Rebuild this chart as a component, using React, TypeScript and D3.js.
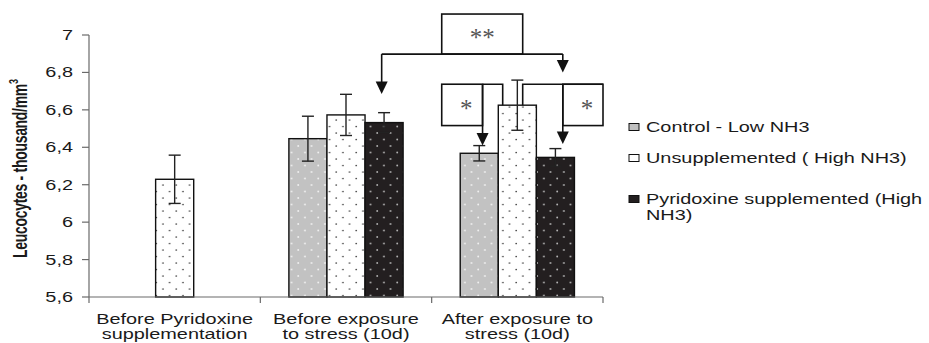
import React from 'react';
import * as d3 from 'd3';

// ---------- data ----------
const categories = [
  'Before Pyridoxine|supplementation',
  'Before exposure|to stress (10d)',
  'After exposure to|stress (10d)',
];
const seriesKeys = ['control', 'unsupp', 'pyridox'];
const legendLabels = [
  ['Control - Low NH3'],
  ['Unsupplemented ( High NH3)'],
  ['Pyridoxine supplemented (High', 'NH3)'],
];
const controlValues: (number | null)[] = [null, 6.446, 6.368];
const controlErrors: (number | null)[] = [null, 0.12, 0.041];
const unsuppValues: (number | null)[] = [6.229, 6.573, 6.625];
const unsuppErrors: (number | null)[] = [0.129, 0.11, 0.134];
const pyridoxValues: (number | null)[] = [null, 6.532, 6.346];
const pyridoxErrors: (number | null)[] = [null, 0.053, 0.047];
const yTicks = [5.6, 5.8, 6, 6.2, 6.4, 6.6, 6.8, 7];
const yDomain = [5.6, 7];
const yTitle = 'Leucocytes - thousand/mm';

// significance annotation levels (data units)
const dblBoxTop = 7.112;
const dblBoxBottom = 6.898;
const dblLeftTip = 6.685;
const dblRightTip = 6.8;
const sglBoxTop = 6.737;
const sglBoxBottom = 6.516;
const sglLeftTip = 6.41;
const sglRightTip = 6.418;

// ---------- layout ----------
const W = 929;
const H = 343;
const left = 89;
const right = 603;
const top = 35;
const bottom = 297;
const SX = 1.42; // horizontal stretch of the original picture
const FONT = '"Liberation Sans", Arial, Helvetica, sans-serif';

const valuesBy: Record<string, (number | null)[]> = {
  control: controlValues,
  unsupp: unsuppValues,
  pyridox: pyridoxValues,
};
const errorsBy: Record<string, (number | null)[]> = {
  control: controlErrors,
  unsupp: unsuppErrors,
  pyridox: pyridoxErrors,
};
const fillBy: Record<string, string> = {
  control: 'url(#patGray)',
  unsupp: 'url(#patWhite)',
  pyridox: 'url(#patBlack)',
};
const legendFill: Record<string, string> = {
  control: '#c0c0c0',
  unsupp: '#ffffff',
  pyridox: '#231f20',
};

function SText({ x, y, anchor = 'start', size = 14, weight = 'normal', fill = '#1a1a1a', children }: any) {
  return (
    <text
      transform={`translate(${x},${y}) scale(${SX},1)`}
      textAnchor={anchor}
      fontSize={size}
      fontWeight={weight}
      fontFamily={FONT}
      fill={fill}
    >
      {children}
    </text>
  );
}

function Arrow({ x, y1, tip }: { x: number; y1: number; tip: number }) {
  const hw = 6;
  const hh = 12.5;
  return (
    <g>
      <line x1={x} y1={y1} x2={x} y2={tip - hh + 1} stroke="#111" strokeWidth={1.6} />
      <path d={`M${x - hw},${tip - hh} L${x + hw},${tip - hh} L${x},${tip} Z`} fill="#111" />
    </g>
  );
}

export default function App() {
  const x = d3.scaleBand<string>().domain(categories).range([left, right]).padding(0);
  const xs = d3
    .scaleBand<string>()
    .domain(seriesKeys)
    .range([0, x.bandwidth()])
    .paddingInner(0)
    .paddingOuter(0.75);
  const y = d3.scaleLinear().domain(yDomain).range([bottom, top]);
  const bw = xs.bandwidth();

  const barX = (cat: string, key: string) => {
    const i = categories.indexOf(cat);
    const present = seriesKeys.filter((k) => valuesBy[k][i] != null);
    if (present.length === 1) return (x(cat) as number) + x.bandwidth() / 2 - bw / 2;
    return (x(cat) as number) + (xs(key) as number);
  };

  const bars: any[] = [];
  categories.forEach((cat, i) => {
    seriesKeys.forEach((key) => {
      const v = valuesBy[key][i];
      if (v == null) return;
      bars.push({ cat, key, v, e: errorsBy[key][i] as number, x0: barX(cat, key) });
    });
  });

  const g2 = categories[1];
  const g3 = categories[2];
  const dblLeftX = barX(g2, 'pyridox') + bw / 2 - 2.4;
  const dblRightX = barX(g3, 'pyridox') + bw / 2 + 7.4;
  const sglLeftX = barX(g3, 'control') + bw / 2 + 3.3;
  const boxLeft = barX(g3, 'control') - 18.5;
  const dblBoxRight = barX(g3, 'unsupp') + 24.4;
  const whiteL = barX(g3, 'unsupp') + 4.4;
  const whiteR = barX(g3, 'unsupp') + 24.4;
  const whiteTop = y(unsuppValues[2] as number);

  const legendY = [127, 158, 199];

  return (
    <svg
      width={W}
      height={H}
      style={{ position: 'absolute', left: 0, top: 0, background: '#fff' }}
    >
      <defs>
        <pattern id="patGray" patternUnits="userSpaceOnUse" width={13.33} height={13} x={2} y={0}>
          <rect width={13.33} height={13} fill="#c2c2c2" />
          <circle cx={3} cy={3} r={0.9} fill="#f2f2f2" />
          <circle cx={9.67} cy={9.5} r={0.9} fill="#f2f2f2" />
        </pattern>
        <pattern id="patWhite" patternUnits="userSpaceOnUse" width={13.33} height={13} x={0} y={0}>
          <rect width={13.33} height={13} fill="#ffffff" />
          <circle cx={3} cy={3} r={0.85} fill="#444" />
          <circle cx={9.67} cy={9.5} r={0.85} fill="#444" />
        </pattern>
        <pattern id="patBlack" patternUnits="userSpaceOnUse" width={13.33} height={13} x={1} y={0}>
          <rect width={13.33} height={13} fill="#231f20" />
          <circle cx={3} cy={3} r={0.9} fill="#b5b5b5" />
          <circle cx={9.67} cy={9.5} r={0.9} fill="#b5b5b5" />
        </pattern>
      </defs>

      {/* bars */}
      {bars.map((b, i) => (
        <rect
          key={'b' + i}
          x={b.x0}
          y={y(b.v)}
          width={bw}
          height={bottom - y(b.v)}
          fill={fillBy[b.key]}
          stroke="#111"
          strokeWidth={1.4}
        />
      ))}

      {/* error bars */}
      {bars.map((b, i) => {
        const cx = b.x0 + bw / 2;
        return (
          <g key={'e' + i} stroke="#222" strokeWidth={1.4}>
            <line x1={cx} x2={cx} y1={y(b.v + b.e)} y2={y(b.v - b.e)} />
            <line x1={cx - 6} x2={cx + 6} y1={y(b.v + b.e)} y2={y(b.v + b.e)} />
            <line x1={cx - 6} x2={cx + 6} y1={y(b.v - b.e)} y2={y(b.v - b.e)} />
          </g>
        );
      })}

      {/* axes */}
      <g stroke="#6a6a6a" strokeWidth={1.2}>
        <line x1={left} x2={left} y1={top} y2={bottom + 6} />
        <line x1={left} x2={right} y1={bottom} y2={bottom} />
        {yTicks.map((t) => (
          <line key={'yt' + t} x1={left - 7} x2={left} y1={y(t)} y2={y(t)} />
        ))}
        {categories.map((c) => (
          <line
            key={'xt' + c}
            x1={(x(c) as number) + x.bandwidth()}
            x2={(x(c) as number) + x.bandwidth()}
            y1={bottom}
            y2={bottom + 6}
          />
        ))}
      </g>

      {/* y tick labels */}
      {yTicks.map((t) => (
        <SText key={'yl' + t} x={73} y={y(t) + 5} anchor="end">
          {String(t).replace('.', ',')}
        </SText>
      ))}

      {/* x labels */}
      {categories.map((c) => {
        const cx = (x(c) as number) + x.bandwidth() / 2;
        return c.split('|').map((line, j) => (
          <SText key={c + j} x={cx} y={323.5 + j * 15.5} anchor="middle">
            {line}
          </SText>
        ));
      })}

      {/* y title */}
      <text
        transform={`translate(26.5,258) scale(${SX},1) rotate(-90)`}
        fontSize={14}
        fontWeight="bold"
        fontFamily={FONT}
        fill="#1a1a1a"
        letterSpacing={-0.3}
      >
        {yTitle}
        <tspan fontSize={9} dy={-6}>
          3
        </tspan>
      </text>

      {/* significance annotations */}
      <g fill="none" stroke="#111" strokeWidth={1.6}>
        <rect x={boxLeft} y={y(dblBoxTop)} width={dblBoxRight - boxLeft} height={y(dblBoxBottom) - y(dblBoxTop)} fill="#fff" />
        <polyline points={`${dblLeftX},${y(dblBoxBottom)} ${dblRightX},${y(dblBoxBottom)}`} />
        <rect x={boxLeft} y={y(sglBoxTop)} width={sglLeftX - boxLeft} height={y(sglBoxBottom) - y(sglBoxTop)} fill="#fff" />
        <polyline points={`${sglLeftX},${y(sglBoxTop)} ${whiteL},${y(sglBoxTop)} ${whiteL},${whiteTop}`} />
        <polyline points={`${whiteR},${whiteTop} ${whiteR},${y(sglBoxTop)} ${right},${y(sglBoxTop)}`} />
        <rect x={dblRightX} y={y(sglBoxTop)} width={right - dblRightX} height={y(sglBoxBottom) - y(sglBoxTop)} fill="#fff" />
      </g>
      <Arrow x={dblLeftX} y1={y(dblBoxBottom)} tip={y(dblLeftTip)} />
      <Arrow x={dblRightX} y1={y(dblBoxBottom)} tip={y(dblRightTip)} />
      <Arrow x={sglLeftX} y1={y(sglBoxTop)} tip={y(sglLeftTip)} />
      <Arrow x={dblRightX} y1={y(sglBoxTop)} tip={y(sglRightTip)} />

      <text
        x={(boxLeft + dblBoxRight) / 2}
        y={(y(dblBoxTop) + y(dblBoxBottom)) / 2 + 11.5}
        textAnchor="middle"
        fontSize={25}
        fontFamily='"Liberation Serif", "Times New Roman", serif'
        fill="#555"
      >
        **
      </text>
      <text
        x={(boxLeft + sglLeftX) / 2 + 4}
        y={(y(sglBoxTop) + y(sglBoxBottom)) / 2 + 12.5}
        textAnchor="middle"
        fontSize={25}
        fontFamily='"Liberation Serif", "Times New Roman", serif'
        fill="#555"
      >
        *
      </text>
      <text
        x={(dblRightX + right) / 2 + 4}
        y={(y(sglBoxTop) + y(sglBoxBottom)) / 2 + 12.5}
        textAnchor="middle"
        fontSize={25}
        fontFamily='"Liberation Serif", "Times New Roman", serif'
        fill="#555"
      >
        *
      </text>

      {/* legend */}
      {seriesKeys.map((k, i) => (
        <g key={'lg' + k}>
          <rect x={629} y={legendY[i] - 3.5} width={10} height={7} fill={legendFill[k]} stroke="#111" strokeWidth={1} />
          {legendLabels[i].map((line, j) => (
            <SText key={j} x={646} y={legendY[i] + 5 + j * 15.5}>
              {line}
            </SText>
          ))}
        </g>
      ))}
    </svg>
  );
}
